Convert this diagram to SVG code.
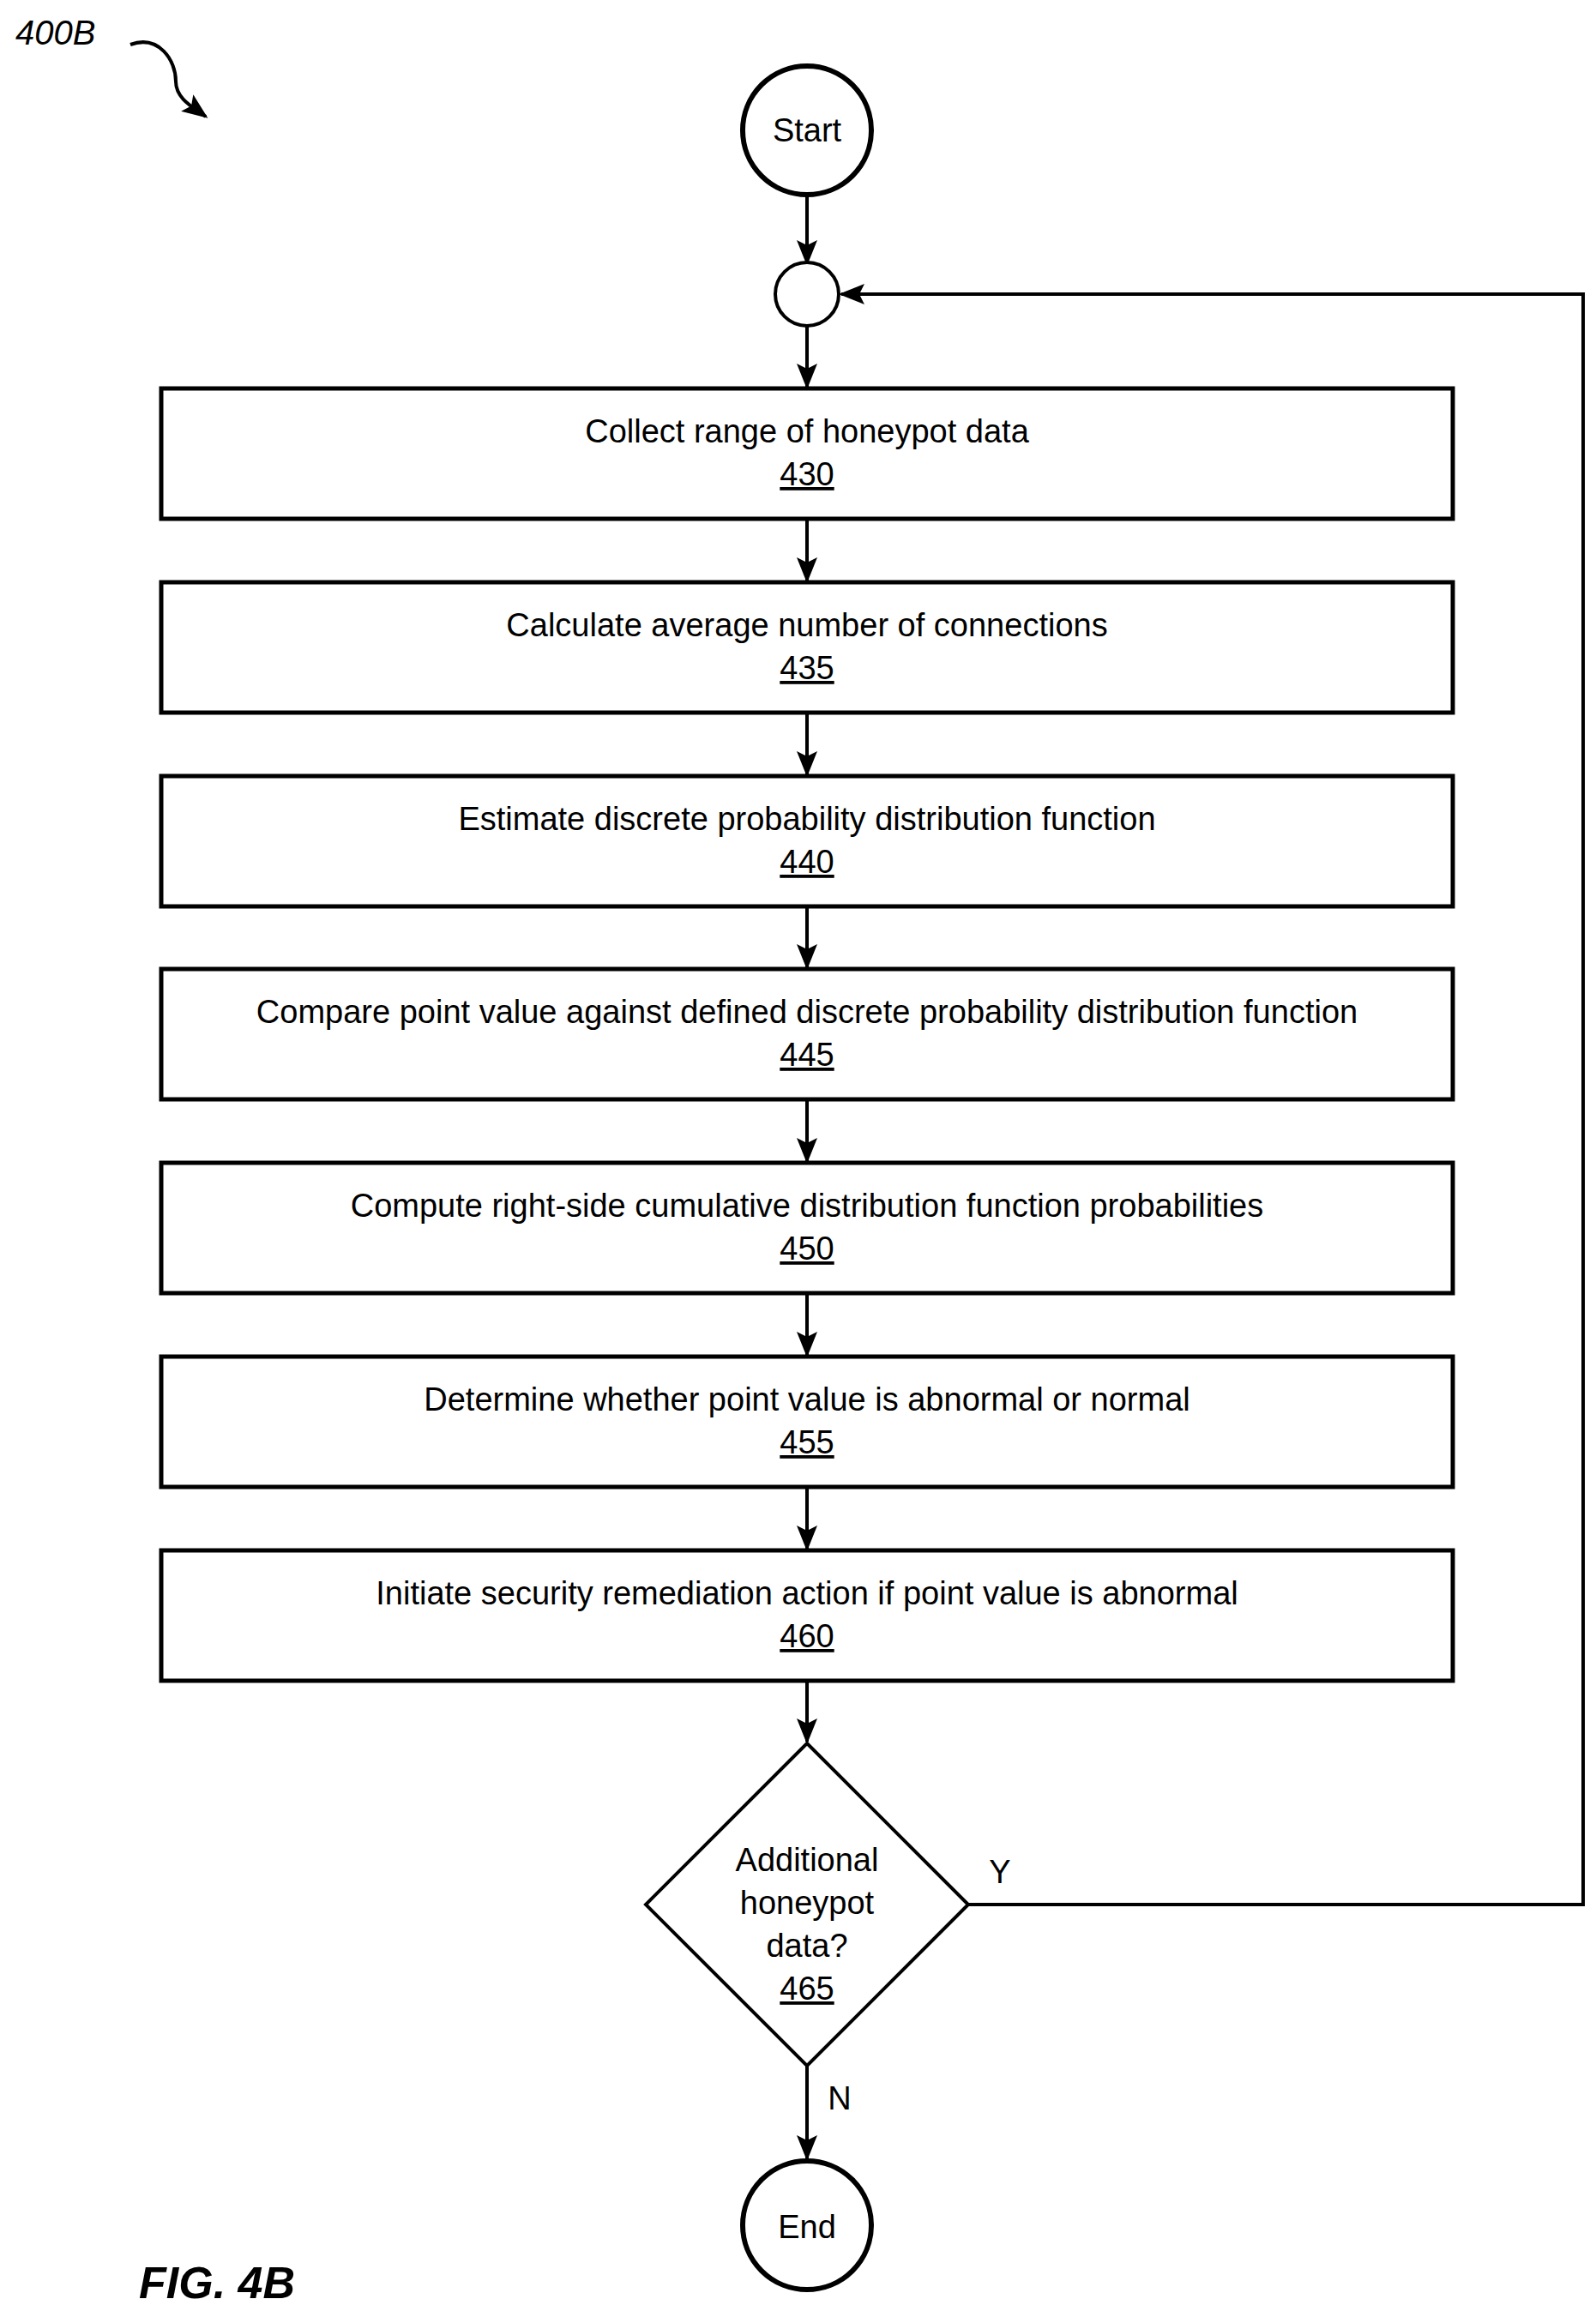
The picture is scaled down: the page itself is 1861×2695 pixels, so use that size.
<svg xmlns="http://www.w3.org/2000/svg" width="1861" height="2695" viewBox="0 0 1861 2695">
<style>
text{font-family:"Liberation Sans",Arial,sans-serif;fill:#000}
.t{font-size:38px;text-anchor:middle}
.box{fill:#fff;stroke:#000;stroke-width:5}
.c{fill:none;stroke:#000;stroke-width:4}
</style>
<defs><marker id="a" markerWidth="10" markerHeight="10" refX="9" refY="5" orient="auto" markerUnits="userSpaceOnUse" viewBox="0 0 10 10"><path d="M0,0L10,5L0,10L2,5z" fill="#000"/></marker>
<marker id="b" viewBox="0 0 10 10" refX="9" refY="5" markerWidth="30" markerHeight="30" orient="auto" markerUnits="userSpaceOnUse"><path d="M0,1L10,5L0,9L2,5z" fill="#000"/></marker></defs>
<text x="18" y="52" font-size="40" font-style="italic">400B</text>
<path d="M152,52 C185,40 205,70 205,95 C205,115 225,125 240,136" fill="none" stroke="#000" stroke-width="4" marker-end="url(#b)"/>
<g id="connectors" class="c">
<path d="M941,228V307" marker-end="url(#b)"/>
<path d="M941,381V451" marker-end="url(#b)"/>
<path d="M941,605V677" marker-end="url(#b)"/>
<path d="M941,831V903" marker-end="url(#b)"/>
<path d="M941,1057V1128" marker-end="url(#b)"/>
<path d="M941,1282V1354" marker-end="url(#b)"/>
<path d="M941,1508V1580" marker-end="url(#b)"/>
<path d="M941,1734V1806" marker-end="url(#b)"/>
<path d="M941,1960V2031" marker-end="url(#b)"/>
<path d="M941,2409V2517" marker-end="url(#b)"/>
<path d="M1129,2221H1846V343H981" marker-end="url(#b)"/>
</g>
<g id="start"><circle cx="941" cy="152" r="75" fill="#fff" stroke="#000" stroke-width="6"/><text class="t" x="941" y="165" font-size="44">Start</text></g>
<g id="join"><circle cx="941" cy="343" r="37" fill="#fff" stroke="#000" stroke-width="4"/></g>
<g id="n430"><rect class="box" x="188" y="453" width="1506" height="152"/><text class="t" x="941" y="516">Collect range of honeypot data</text><text class="t" x="941" y="566" text-decoration="underline">430</text></g>
<g id="n435"><rect class="box" x="188" y="679" width="1506" height="152"/><text class="t" x="941" y="742">Calculate average number of connections</text><text class="t" x="941" y="792" text-decoration="underline">435</text></g>
<g id="n440"><rect class="box" x="188" y="905" width="1506" height="152"/><text class="t" x="941" y="968">Estimate discrete probability distribution function</text><text class="t" x="941" y="1018" text-decoration="underline">440</text></g>
<g id="n445"><rect class="box" x="188" y="1130" width="1506" height="152"/><text class="t" x="941" y="1193">Compare point value against defined discrete probability distribution function</text><text class="t" x="941" y="1243" text-decoration="underline">445</text></g>
<g id="n450"><rect class="box" x="188" y="1356" width="1506" height="152"/><text class="t" x="941" y="1419">Compute right-side cumulative distribution function probabilities</text><text class="t" x="941" y="1469" text-decoration="underline">450</text></g>
<g id="n455"><rect class="box" x="188" y="1582" width="1506" height="152"/><text class="t" x="941" y="1645">Determine whether point value is abnormal or normal</text><text class="t" x="941" y="1695" text-decoration="underline">455</text></g>
<g id="n460"><rect class="box" x="188" y="1808" width="1506" height="152"/><text class="t" x="941" y="1871">Initiate security remediation action if point value is abnormal</text><text class="t" x="941" y="1921" text-decoration="underline">460</text></g>
<g id="n465"><path d="M941,2033L1129,2221L941,2409L753,2221z" fill="#fff" stroke="#000" stroke-width="4"/>
<text class="t" x="941" y="2182">Additional</text><text class="t" x="941" y="2232">honeypot</text><text class="t" x="941" y="2282">data?</text><text class="t" x="941" y="2332" text-decoration="underline">465</text></g>
<text class="t" x="1166" y="2196">Y</text>
<text class="t" x="979" y="2460">N</text>
<g id="end"><circle cx="941" cy="2595" r="75" fill="#fff" stroke="#000" stroke-width="6"/><text class="t" x="941" y="2610" font-size="44">End</text></g>
<text x="162" y="2680" font-size="52" font-weight="bold" font-style="italic">FIG. 4B</text>
</svg>
